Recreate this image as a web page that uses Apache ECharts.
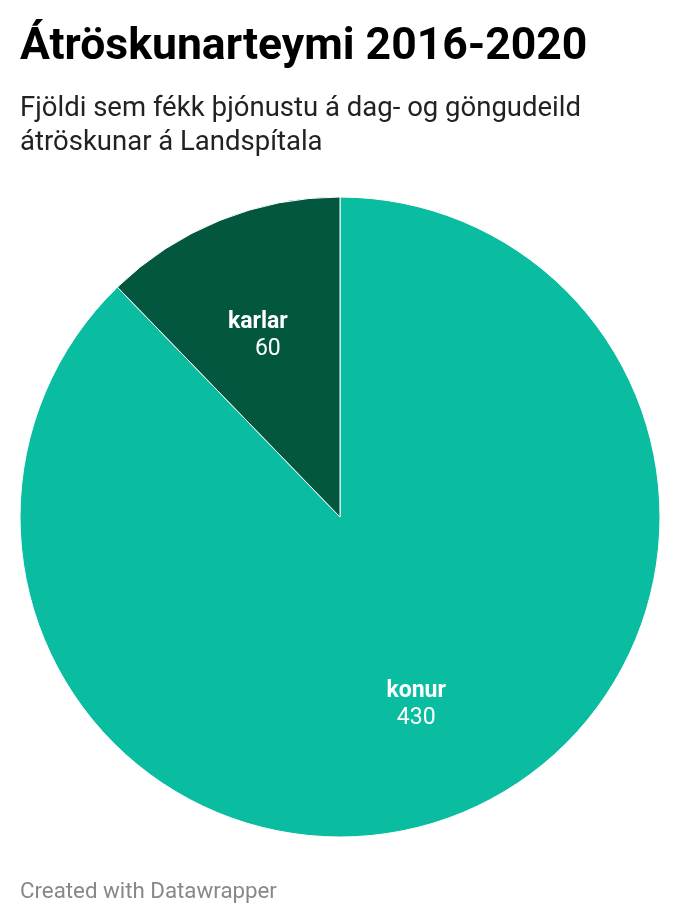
<!DOCTYPE html>
<html><head><meta charset="utf-8">
<script src="https://cdn.jsdelivr.net/npm/echarts@6/dist/echarts.min.js"></script>
<style>html,body{margin:0;padding:0;background:#fff}#c{width:680px;height:924px}</style>
</head><body><div id="c"></div>
<script>
const categories = ['konur', 'karlar'];
const values = [430, 60];
const colors = ['#0abda0', '#03573e'];
const titleText = 'Átröskunarteymi 2016-2020';
const subtitleText = 'Fjöldi sem fékk þjónustu á dag- og göngudeild\nátröskunar á Landspítala';
const footerText = 'Created with Datawrapper';

const labelOffsets = { konur: [0, 0], karlar: [-6, 7] };
const valueIndent = { konur: 0, karlar: 20 };
const data = categories.map((c, i) => ({ name: c, value: values[i], itemStyle: { color: colors[i] } }));
const chart = echarts.init(document.getElementById('c'), null, { renderer: 'canvas' });
const nStyle = { fontFamily: 'Roboto', fontSize: 23, fontWeight: 'bold', color: '#fff', lineHeight: 27, align: 'center' };
const vStyle = { fontFamily: 'Roboto', fontSize: 23, fontWeight: 'normal', color: '#fff', lineHeight: 27, align: 'center' };
chart.setOption({
  animation: false,
  textStyle: { fontFamily: 'Roboto' },
  title: [
    { text: titleText, left: 15, top: 20, textStyle: { fontFamily: 'Roboto', fontSize: 44.5, fontWeight: 'bold', color: '#000' } },
    { text: subtitleText, left: 15, top: 87, textStyle: { fontFamily: 'Roboto', fontSize: 27.5, fontWeight: 'normal', color: '#222', lineHeight: 34 } },
    { text: footerText, left: 15, top: 876, textStyle: { fontFamily: 'Roboto', fontSize: 22.3, fontWeight: 'normal', color: '#888' } }
  ],
  series: [
    {
      type: 'pie', center: [340, 517], radius: [0, 320], startAngle: 90, clockwise: true,
      silent: true, data: data,
      itemStyle: { borderColor: '#fff', borderWidth: 1 },
      label: { show: false }, labelLine: { show: false }
    },
    {
      type: 'pie', center: [340, 517], radius: [80, 320], startAngle: 90, clockwise: true,
      silent: true,
      data: data.map(d => ({
        name: d.name, value: d.value, itemStyle: { color: 'rgba(0,0,0,0)' },
        label: { offset: labelOffsets[d.name], rich: { n: nStyle, v: Object.assign({}, vStyle, { padding: [0, 0, 0, valueIndent[d.name]] }) } }
      })),
      itemStyle: { borderWidth: 0 },
      label: {
        show: true, position: 'inside',
        formatter: '{n|{b}}\n{v|{c}}',
        rich: { n: nStyle, v: vStyle }
      },
      labelLine: { show: false }
    }
  ]
});
</script></body></html>
